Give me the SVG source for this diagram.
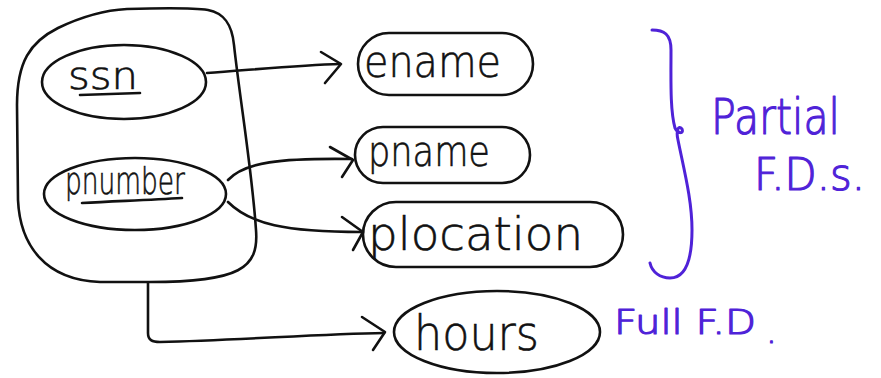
<svg xmlns="http://www.w3.org/2000/svg" width="881" height="378" viewBox="0 0 881 378">
  <defs>
    <style>
      .ink { fill: none; stroke: #111; stroke-width: 2.6; stroke-linecap: round; stroke-linejoin: round; }
      .pen { fill: none; stroke: #4f22d8; stroke-width: 3; stroke-linecap: round; stroke-linejoin: round; }
      .lbl { font-family: "DejaVu Sans", "Liberation Sans", Arial, sans-serif; font-weight: 200; fill: #111; stroke: #111; stroke-width: 0.6; }
      .note { font-family: "DejaVu Sans", "Liberation Sans", Arial, sans-serif; font-weight: 200; fill: #4f22d8; stroke: #4f22d8; stroke-width: 1.2; stroke-linejoin: round; }
    </style>
  </defs>
  <rect width="881" height="378" fill="#fff"/>

  <!-- composite key box -->
  <g id="key">
    <path class="ink" d="M127,9 C160,8 195,8 208,10 C224,13 232,24 234,45 C240,100 252,170 256,230 C259,268 240,282 150,282 L100,282 C45,280 20,245 18,200 L17,105 C17,62 30,42 58,28 C85,15 108,10 127,9 Z"/>
  </g>

  <g id="ssn">
    <ellipse class="ink" cx="124" cy="82" rx="82" ry="37"/>
    <text class="lbl" x="68" y="89" font-size="38" textLength="70" lengthAdjust="spacingAndGlyphs">ssn</text>
    <path class="ink" d="M80,95 L140,93" stroke-width="2.2"/>
  </g>

  <g id="pnumber">
    <ellipse class="ink" cx="135" cy="194" rx="91" ry="36"/>
    <text class="lbl" x="65" y="194" font-size="38" textLength="120" lengthAdjust="spacingAndGlyphs">pnumber</text>
    <path class="ink" d="M82,203 C120,201 150,200 182,198" stroke-width="2.2"/>
  </g>

  <g id="ename">
    <rect class="ink" x="358" y="33" width="175" height="62" rx="31"/>
    <text class="lbl" x="364" y="77" font-size="44" textLength="137" lengthAdjust="spacingAndGlyphs">ename</text>
  </g>

  <g id="pname">
    <rect class="ink" x="355" y="127" width="175" height="56" rx="28"/>
    <text class="lbl" x="368" y="166" font-size="42" textLength="122" lengthAdjust="spacingAndGlyphs">pname</text>
  </g>

  <g id="plocation">
    <rect class="ink" x="363" y="202" width="260" height="65" rx="33"/>
    <text class="lbl" x="368" y="250" font-size="46" textLength="215" lengthAdjust="spacingAndGlyphs">plocation</text>
  </g>

  <g id="hours">
    <ellipse class="ink" cx="497" cy="332" rx="103" ry="41"/>
    <text class="lbl" x="414" y="350" font-size="48" textLength="125" lengthAdjust="spacingAndGlyphs">hours</text>
  </g>

  <!-- dependency arrows -->
  <g id="connectors">
    <path class="ink" d="M207,73 C250,70 300,65 340,64"/>
    <path class="ink" d="M321,52 L341,64 L325,83"/>

    <path class="ink" d="M228,180 C245,162 280,158 352,159"/>
    <path class="ink" d="M330,147 L353,160 L342,177"/>

    <path class="ink" d="M228,202 C250,224 285,232 362,232"/>
    <path class="ink" d="M342,217 L363,232 L353,250"/>

    <path class="ink" d="M148,283 L148,333 C148,340 152,342 160,342 C240,340 320,334 384,333"/>
    <path class="ink" d="M362,317 L385,332 L373,350"/>
  </g>

  <!-- annotations -->
  <g id="partial-note">
    <path class="pen" d="M652,30 C664,30 671,34 671,50 C671,80 670,110 675,128 C678,134 684,134 682,129 C678,124 676,132 678,140 C684,170 692,200 692,230 C692,262 684,278 670,278 C660,278 652,272 650,263"/>
    <text class="note" x="711" y="134" font-size="50" textLength="129" lengthAdjust="spacingAndGlyphs">Partial</text>
    <text class="note" x="754" y="190" font-size="44" textLength="111" lengthAdjust="spacingAndGlyphs">F.D.s.</text>
  </g>

  <g id="full-note">
    <text class="note" x="614" y="334" font-size="34"><tspan textLength="142" lengthAdjust="spacingAndGlyphs">Full F.D</tspan><tspan x="766" y="343">.</tspan></text>
  </g>
</svg>
